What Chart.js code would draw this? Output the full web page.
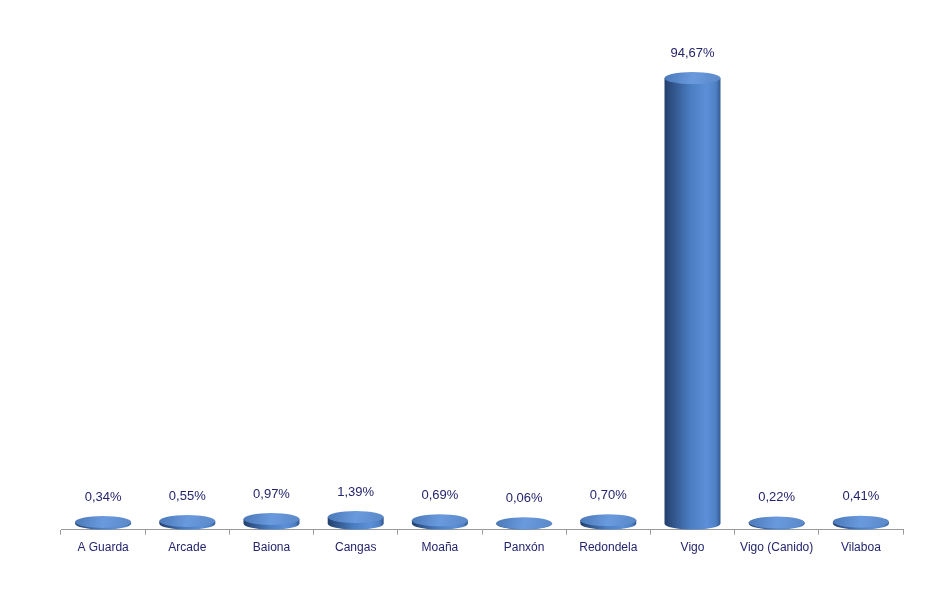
<!DOCTYPE html>
<html lang="es">

<head>
    <meta charset="utf-8">
    <title>Porcentaje por puerto</title>
    <script src="https://cdn.jsdelivr.net/npm/chart.js"></script>
    <style>
        body {
            margin: 0;
            background-color: #ffffff;
        }

        #wrap {
            width: 925px;
            height: 597px;
        }
    </style>
</head>

<body>
    <div id="wrap"><canvas id="myChart"></canvas></div>

    <script>
        // Data
        const categories = ['A Guarda', 'Arcade', 'Baiona', 'Cangas', 'Moaña', 'Panxón', 'Redondela', 'Vigo', 'Vigo (Canido)', 'Vilaboa'];
        const shares = [0.34, 0.55, 0.97, 1.39, 0.69, 0.06, 0.70, 94.67, 0.22, 0.41];
        const shareLabels = ['0,34%', '0,55%', '0,97%', '1,39%', '0,69%', '0,06%', '0,70%', '94,67%', '0,22%', '0,41%'];

        const RY = 6; // half height of the cylinder ellipses

        // Draws each bar as a 3D-looking cylinder plus its value label
        const cylinderPlugin = {
            id: 'cylinders',
            afterDatasetsDraw(chart) {
                const ctx = chart.ctx;
                const meta = chart.getDatasetMeta(0);
                meta.data.forEach((bar, i) => {
                    const rx = bar.width / 2;
                    const left = bar.x - rx;
                    const right = bar.x + rx;
                    const bottomY = bar.base - RY;
                    const topY = bar.y - RY;

                    const body = ctx.createLinearGradient(left, 0, right, 0);
                    body.addColorStop(0, '#23406c');
                    body.addColorStop(0.18, '#33588f');
                    body.addColorStop(0.45, '#4a7cc0');
                    body.addColorStop(0.75, '#5b90d8');
                    body.addColorStop(0.92, '#4e80c4');
                    body.addColorStop(1, '#33588f');

                    ctx.save();
                    ctx.fillStyle = body;
                    ctx.beginPath();
                    ctx.moveTo(left, topY);
                    ctx.lineTo(left, bottomY);
                    ctx.ellipse(bar.x, bottomY, rx, RY, 0, Math.PI, 0, true);
                    ctx.lineTo(right, topY);
                    ctx.closePath();
                    ctx.fill();

                    const top = ctx.createLinearGradient(left, topY - RY, right, topY + RY);
                    top.addColorStop(0, '#4a78b8');
                    top.addColorStop(0.5, '#6a9ade');
                    top.addColorStop(1, '#5a88c8');
                    ctx.fillStyle = top;
                    ctx.beginPath();
                    ctx.ellipse(bar.x, topY, rx, RY, 0, 0, Math.PI * 2);
                    ctx.fill();

                    ctx.fillStyle = '#24246e';
                    ctx.font = '13px "Liberation Sans", Arial, sans-serif';
                    ctx.textAlign = 'center';
                    ctx.textBaseline = 'middle';
                    ctx.fillText(shareLabels[i], bar.x, topY - RY - 19);
                    ctx.restore();
                });
            }
        };

        const config = {
            type: 'bar',
            data: {
                labels: categories,
                datasets: [{
                    data: shares,
                    backgroundColor: 'rgba(0,0,0,0)',
                    borderWidth: 0,
                    barPercentage: 0.665,
                    categoryPercentage: 1
                }]
            },
            options: {
                responsive: true,
                maintainAspectRatio: false,
                animation: false,
                layout: {
                    padding: { left: 61, right: 22, top: 59, bottom: 36 }
                },
                scales: {
                    x: {
                        grid: {
                            drawOnChartArea: false,
                            drawTicks: true,
                            tickLength: 5,
                            color: '#9a9a9a'
                        },
                        border: { color: '#9a9a9a', width: 1 },
                        ticks: {
                            color: '#24246e',
                            padding: 6,
                            maxRotation: 0,
                            autoSkip: false,
                            font: { family: '"Liberation Sans", Arial, sans-serif', size: 12 }
                        }
                    },
                    y: {
                        display: false,
                        min: 0,
                        max: 100
                    }
                },
                plugins: {
                    legend: { display: false },
                    tooltip: { enabled: false }
                }
            },
            plugins: [cylinderPlugin]
        };

        const myChart = new Chart(document.getElementById('myChart'), config);
    </script>
</body>

</html>
